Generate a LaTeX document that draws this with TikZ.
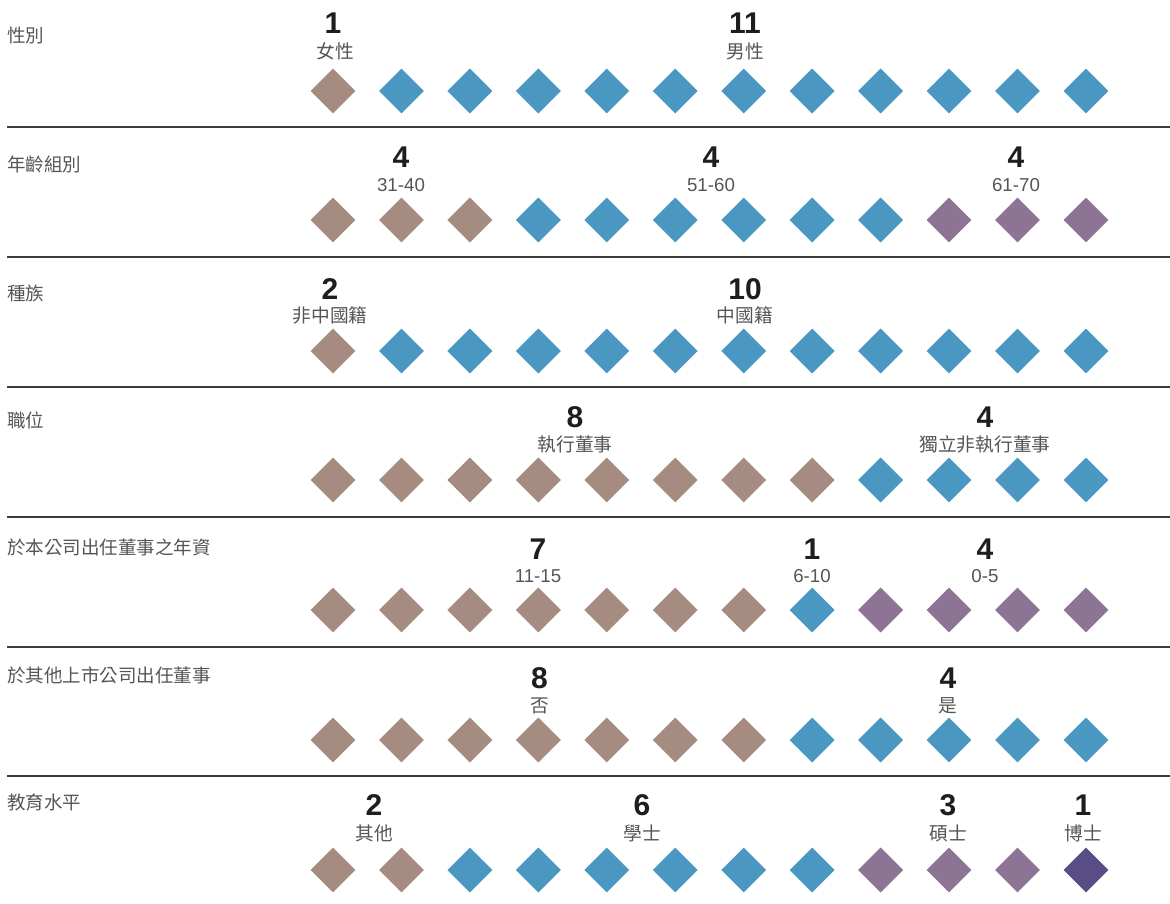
\documentclass[tikz,border=0pt]{standalone}
\usepackage{fontspec}
\setmainfont{Liberation Sans}
\newfontfamily\cjk{Noto Sans CJK TC}
\usetikzlibrary{shapes.geometric}
\definecolor{cbrown}{HTML}{A58B80}
\definecolor{cblue}{HTML}{4A97C2}
\definecolor{cpurple}{HTML}{8D7394}
\definecolor{cdark}{HTML}{584E85}
\definecolor{ctext}{HTML}{555555}
\definecolor{cnum}{HTML}{1E1E1E}
\definecolor{cline}{HTML}{3C3C3C}
\begin{document}
\begin{tikzpicture}[x=1pt,y=-1pt,
  gem/.style={diamond, minimum width=45pt, minimum height=45pt, inner sep=0pt, draw=none},
  rowlabel/.style={anchor=base west, inner sep=0pt, text=ctext, font=\cjk\fontsize{18.5}{20}\selectfont},
  count/.style={anchor=base, inner sep=0pt, text=cnum, font=\fontsize{30}{32}\selectfont\bfseries},
  cat/.style={anchor=base, inner sep=0pt, text=ctext, font=\fontsize{18.7}{20}\selectfont},
  sep/.style={line width=1.5pt, draw=cline}]
\useasboundingbox (0,0) rectangle (1170,903);

% diamonds
\foreach \r/\y/\cols in {
  1/91/{cbrown,cblue,cblue,cblue,cblue,cblue,cblue,cblue,cblue,cblue,cblue,cblue},
  2/220/{cbrown,cbrown,cbrown,cblue,cblue,cblue,cblue,cblue,cblue,cpurple,cpurple,cpurple},
  3/351/{cbrown,cblue,cblue,cblue,cblue,cblue,cblue,cblue,cblue,cblue,cblue,cblue},
  4/480/{cbrown,cbrown,cbrown,cbrown,cbrown,cbrown,cbrown,cbrown,cblue,cblue,cblue,cblue},
  5/610/{cbrown,cbrown,cbrown,cbrown,cbrown,cbrown,cbrown,cblue,cpurple,cpurple,cpurple,cpurple},
  6/740/{cbrown,cbrown,cbrown,cbrown,cbrown,cbrown,cbrown,cblue,cblue,cblue,cblue,cblue},
  7/870/{cbrown,cbrown,cblue,cblue,cblue,cblue,cblue,cblue,cpurple,cpurple,cpurple,cdark}}{
  \foreach \c [count=\i] in \cols {
    \node[gem, fill=\c] (d\r-\i) at ({333+(\i-1)*68.45},\y) {};
  }
}

% row labels
\node[rowlabel] (l1) at (7,42) {性別};
\node[rowlabel] (l2) at (7,171) {年齡組別};
\node[rowlabel] (l3) at (7,300) {種族};
\node[rowlabel] (l4) at (7,427) {職位};
\node[rowlabel] (l5) at (7,554) {於本公司出任董事之年資};
\node[rowlabel] (l6) at (7,682) {於其他上市公司出任董事};
\node[rowlabel] (l7) at (7,809) {教育水平};

% separators
\foreach \k/\y in {1/127,2/257,3/387,4/517,5/647,6/776}{
  \coordinate (sa\k) at (7,\y);
  \coordinate (sb\k) at (1170,\y);
  \draw[sep] (sa\k) -- (sb\k);
}

% row 1
\node[count] (n1a) at (333,33) {1};
\node[cat] (c1a) at (335,58) {\cjk 女性};
\node[count] (n1b) at (745,33) {11};
\node[cat] (c1b) at (745,58) {\cjk 男性};
% row 2
\node[count] (n2a) at (401,167) {4};
\node[cat] (c2a) at (401,191) {31-40};
\node[count] (n2b) at (711,167) {4};
\node[cat] (c2b) at (711,191) {51-60};
\node[count] (n2c) at (1016,167) {4};
\node[cat] (c2c) at (1016,191) {61-70};
% row 3
\node[count] (n3a) at (330,299) {2};
\node[cat] (c3a) at (330,322) {\cjk 非中國籍};
\node[count] (n3b) at (745,299) {10};
\node[cat] (c3b) at (745,322) {\cjk 中國籍};
% row 4
\node[count] (n4a) at (575,427) {8};
\node[cat] (c4a) at (575,451.5) {\cjk 執行董事};
\node[count] (n4b) at (985,427) {4};
\node[cat] (c4b) at (985,451.5) {\cjk 獨立非執行董事};
% row 5
\node[count] (n5a) at (538,559) {7};
\node[cat] (c5a) at (538,582.5) {11-15};
\node[count] (n5b) at (812,559) {1};
\node[cat] (c5b) at (812,582.5) {6-10};
\node[count] (n5c) at (985,559) {4};
\node[cat] (c5c) at (985,582.5) {0-5};
% row 6
\node[count] (n6a) at (539.5,688) {8};
\node[cat] (c6a) at (539.5,712) {\cjk 否};
\node[count] (n6b) at (948,688) {4};
\node[cat] (c6b) at (948,712) {\cjk 是};
% row 7
\node[count] (n7a) at (374,815) {2};
\node[cat] (c7a) at (374,840) {\cjk 其他};
\node[count] (n7b) at (642,815) {6};
\node[cat] (c7b) at (642,840) {\cjk 學士};
\node[count] (n7c) at (948,815) {3};
\node[cat] (c7c) at (948,840) {\cjk 碩士};
\node[count] (n7d) at (1083,815) {1};
\node[cat] (c7d) at (1083,840) {\cjk 博士};
\end{tikzpicture}
\end{document}
